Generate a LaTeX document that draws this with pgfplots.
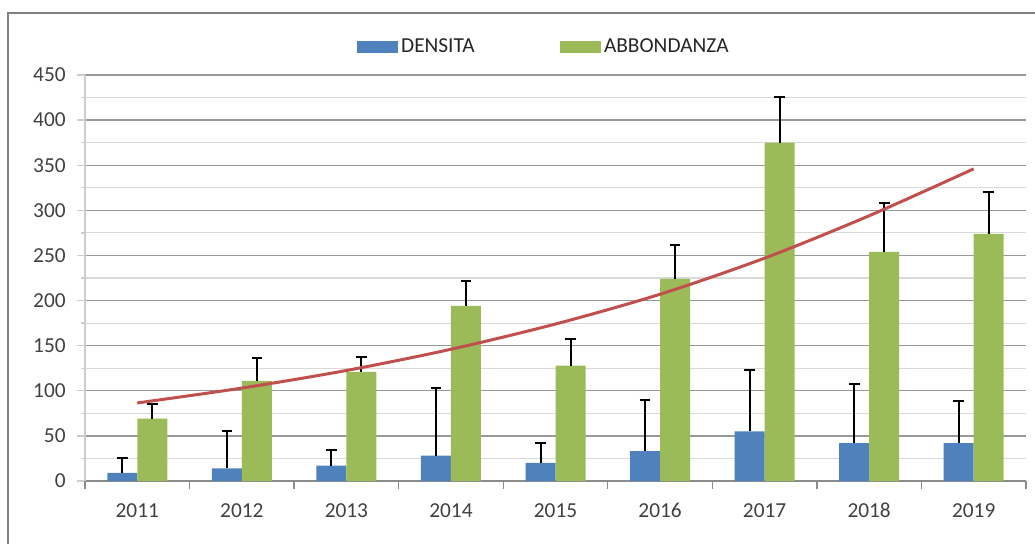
\documentclass[border=0pt]{standalone}
\usepackage{fontspec}
\setmainfont{Carlito}
\usepackage{pgfplots}
\usepackage{pgfplotstable}
\pgfplotsset{compat=1.18}
\definecolor{cblue}{HTML}{4F81BD}
\definecolor{cgreen}{HTML}{9BBB59}
\definecolor{cred}{HTML}{C0504D}
\definecolor{ctext}{HTML}{404040}
\pgfplotstableread{
x y e
0 9 16
1 14 41
2 17 17
3 28 75
4 20 22
5 33 57
6 55 68
7 42 65
8 42 47
}\densita
\pgfplotstableread{
x y e
0 69 16
1 111 25
2 121 16
3 194 28
4 128 29
5 224 38
6 375 51
7 254 54
8 274 46
}\abbondanza
\pgfplotstableread{
x y
0 86.5
1 103
2 122.5
3 146
4 174
5 207
6 247
7 294
8 346
}\trend
\begin{document}
\begin{tikzpicture}
\useasboundingbox (0,0) rectangle (776.25pt,407.25pt);
\draw[color=black!50, line width=1.5pt] (6pt,-5pt) -- (6pt,397.5pt) -- (790pt,397.5pt);
\begin{axis}[
  at={(63.75pt,46.5pt)}, anchor=south west,
  scale only axis, width=705.75pt, height=304.5pt,
  xmin=-0.5, xmax=8.5, ymin=0, ymax=450,
  ybar=0pt, bar width=22.5pt,
  ytick={0,50,...,450}, minor ytick={25,75,...,425},
  ymajorgrids, yminorgrids,
  major grid style={color=black!40, line width=1pt},
  minor grid style={color=black!15, line width=0.8pt},
  axis x line*=bottom, axis y line*=left,
  x axis line style={color=black!45, line width=1pt, -},
  y axis line style={color=black!20, line width=1pt, -},
  tick align=outside,
  major tick length=6pt,
  ytick style={color=black!20, line width=1pt},
  xtick={0,...,8}, xticklabels={2011,2012,2013,2014,2015,2016,2017,2018,2019},
  xtick style={draw=none},
  extra x ticks={-0.5,0.5,1.5,2.5,3.5,4.5,5.5,6.5,7.5,8.5},
  extra x tick labels={},
  extra x tick style={grid=none, xtick style={draw=black!45, line width=1pt}},
  ticklabel style={font=\fontsize{16}{19}\selectfont, text=ctext},
  yticklabel style={xshift=-5pt},
  xticklabel style={yshift=-7pt, text height=11pt, text depth=0pt},
  /pgf/number format/assume math mode=true,
  legend style={at={(0.488,1.069)}, anchor=center, draw=none, fill=none,
    font=\fontsize{16}{19}\selectfont, text=black!85,
    legend columns=2,
    /tikz/every even column/.append style={column sep=62pt}},
  legend cell align=left,
]
\addplot[fill=cblue, draw=none,
  legend image code/.code={\fill[cblue] (0pt,-4.5pt) rectangle (31pt,4.5pt);},
  error bars/.cd, y dir=plus, y explicit,
  error bar style={draw=black, line width=1.5pt},
  error mark options={draw=black, line width=1.5pt, mark size=4pt, rotate=90}]
  table[x=x, y=y, y error=e]{\densita};
\addlegendentry{DENSITA}
\addplot[fill=cgreen, draw=none,
  legend image code/.code={\fill[cgreen] (0pt,-4.5pt) rectangle (31pt,4.5pt);},
  error bars/.cd, y dir=plus, y explicit,
  error bar style={draw=black, line width=1.5pt},
  error mark options={draw=black, line width=1.5pt, mark size=4pt, rotate=90}]
  table[x=x, y=y, y error=e]{\abbondanza};
\addlegendentry{ABBONDANZA}
\addplot[color=cred, line width=2.25pt, smooth, no markers, forget plot]
  table[x=x, y=y]{\trend};
\end{axis}
\end{tikzpicture}
\end{document}
